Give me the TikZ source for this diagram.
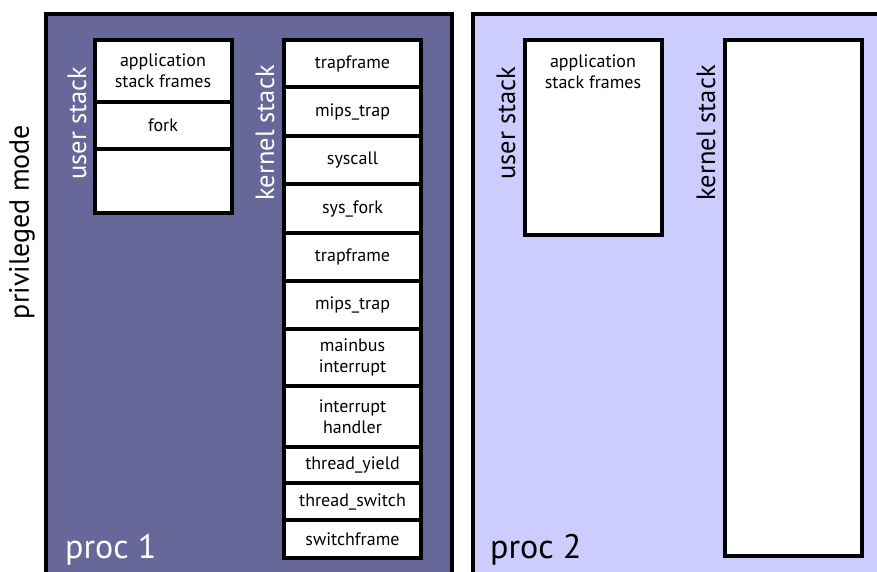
\documentclass[tikz,border=0pt]{standalone}
\usepackage{fontspec}
\setmainfont{PT Sans}
\usetikzlibrary{positioning}
\definecolor{procone}{RGB}{103,103,153}
\definecolor{proctwo}{RGB}{204,204,255}

\begin{document}
\begin{tikzpicture}
        [x=1pt, y=-1pt,
        cell/.style={draw=black, fill=white, line width=4pt, minimum width=137pt,
                inner sep=0pt, outer sep=0pt, align=center,
                font=\fontsize{18}{21}\selectfont},
        proc/.style={draw=black, line width=4pt},
        stacklabel/.style={rotate=90, inner sep=0pt, font=\fontsize{26.5}{30}\selectfont},
        proclabel/.style={anchor=base west, inner sep=0pt, font=\fontsize{34}{38}\selectfont}]
        \clip (0,0) rectangle (877,571);
        % the two processes
        \path [proc, fill=procone] (46,14) rectangle (452,620);
        \path [proc, fill=proctwo] (473,14) rectangle (920,620);
        \node [stacklabel, font=\fontsize{28}{32}\selectfont] (privmode) at (22,222) {privileged mode};
        % proc 1: user stack
        \node [cell, minimum height=62pt, anchor=north] (app1) at (163,40) {application\\stack frames};
        \node [cell, minimum height=47pt, below=0pt of app1] (fork) {fork};
        \node [cell, minimum height=64pt, below=0pt of fork] (empty1) {};
        \node [stacklabel, white] (ulabel1) at (77,123) {user stack};
        % proc 1: kernel stack
        \node [cell, minimum height=47pt, anchor=north] (trap1) at (352.5,40) {trapframe};
        \node [cell, minimum height=49pt, below=0pt of trap1] (mips1) {mips\_trap};
        \node [cell, minimum height=48pt, below=0pt of mips1] (syscall) {syscall};
        \node [cell, minimum height=49pt, below=0pt of syscall] (sysfork) {sys\_fork};
        \node [cell, minimum height=48pt, below=0pt of sysfork] (trap2) {trapframe};
        \node [cell, minimum height=48pt, below=0pt of trap2] (mips2) {mips\_trap};
        \node [cell, minimum height=57pt, below=0pt of mips2] (mainbus) {mainbus\\interrupt};
        \node [cell, minimum height=61pt, below=0pt of mainbus] (handler) {interrupt\\handler};
        \node [cell, minimum height=36pt, below=0pt of handler] (yield) {thread\_yield};
        \node [cell, minimum height=37pt, below=0pt of yield] (switch) {thread\_switch};
        \node [cell, minimum height=38pt, below=0pt of switch] (swframe) {switchframe};
        \node [stacklabel, white] (klabel1) at (265,133) {kernel stack};
        \node [proclabel, white] (proc1) at (65,558) {proc 1};
        % proc 2: user stack and (empty) kernel stack
        \node [cell, minimum height=195pt, anchor=north] (ustack2) at (593,40) {};
        \node [below=15pt of ustack2.north, align=center, inner sep=0pt,
                font=\fontsize{18}{21}\selectfont] (app2) {application\\stack frames};
        \node [stacklabel] (ulabel2) at (506,123) {user stack};
        \node [cell, minimum height=516pt, anchor=north] (kstack2) at (793,40) {};
        \node [stacklabel] (klabel2) at (706,133) {kernel stack};
        \node [proclabel] (proc2) at (490,558) {proc 2};
\end{tikzpicture}
\end{document}
